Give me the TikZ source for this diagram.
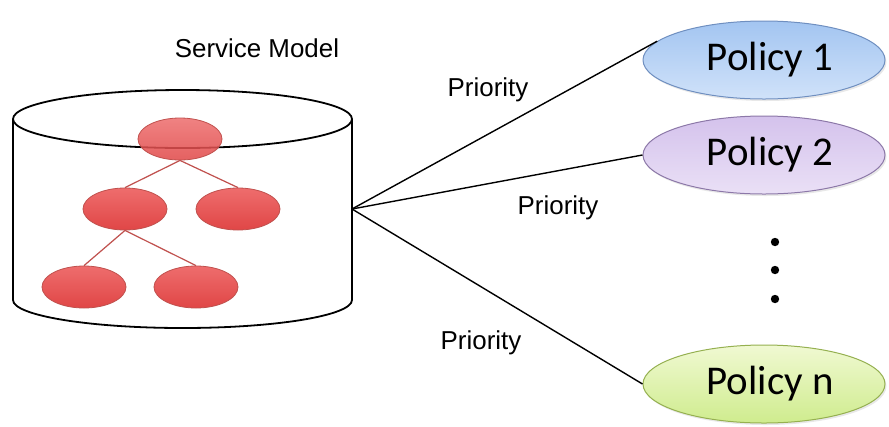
\documentclass[tikz,border=0pt]{standalone}
\usepackage{fontspec}
\setmainfont{Liberation Sans}
\newfontfamily\policyfont{Carlito}
\usetikzlibrary{shapes.geometric,shadows}

\definecolor{treered}{HTML}{E04646}
\definecolor{treeredlight}{HTML}{EE6D6D}
\definecolor{treeedge}{HTML}{C0504D}
\definecolor{pblue}{HTML}{A3C5F1}
\definecolor{pbluelight}{HTML}{D0E2F9}
\definecolor{pblueedge}{HTML}{6F8FC0}
\definecolor{ppurple}{HTML}{D4C2EC}
\definecolor{ppurplelight}{HTML}{EAE0F6}
\definecolor{ppurpleedge}{HTML}{8C78A8}
\definecolor{pgreen}{HTML}{CFEC8E}
\definecolor{pgreenlight}{HTML}{F0F9D2}
\definecolor{pgreenedge}{HTML}{95B050}

\tikzset{
  treenode/.style={ellipse, draw=treeedge, line width=0.8bp,
    top color=treeredlight, bottom color=treered,
    minimum width=84bp, minimum height=42bp, inner sep=0pt},
  treeline/.style={draw=treeedge, line width=1.2bp},
  policy/.style={ellipse, line width=1bp, minimum width=242bp,
    minimum height=78bp, inner sep=0pt,
    font=\policyfont\fontsize{41}{45}\selectfont,
    drop shadow={opacity=0.18, shadow xshift=1.5bp, shadow yshift=-2bp}},
  label/.style={font=\fontsize{26}{30}\selectfont, inner sep=0pt},
  link/.style={draw=black, line width=1.4bp},
  cyl/.style={draw=black, line width=1.8bp},
}

\begin{document}
\begin{tikzpicture}[x=1bp, y=-1bp]
  \useasboundingbox (0,0) rectangle (889,426);

  % storage cylinder
  \fill[white] (13,119) -- (13,300) arc[start angle=180, end angle=0,
    x radius=169.5, y radius=28] -- (352,119) -- cycle;
  \draw[cyl] (13,119) -- (13,300) arc[start angle=180, end angle=0,
    x radius=169.5, y radius=28] -- (352,119);
  \draw[cyl] (182.5,119) ellipse[x radius=169.5, y radius=29];

  % service model tree (root is slightly see-through over the rim)
  \node[treenode, fill opacity=0.85] (root) at (180,139) {};
  \node[treenode] (ml) at (125,209) {};
  \node[treenode] (mr) at (238,209) {};
  \node[treenode] (bl) at (84,287) {};
  \node[treenode] (br) at (196,287) {};
  \draw[treeline] (root.south) -- (ml.north);
  \draw[treeline] (root.south) -- (mr.north);
  \draw[treeline] (ml.south) -- (bl.north);
  \draw[treeline] (ml.south) -- (br.north);

  \node[label] (title) at (257,48) {Service Model};

  % policies
  \node[policy, draw=pblueedge, top color=pblue, bottom color=pbluelight]
    (p1) at (764,60) {\hspace*{12bp}Policy 1};
  \node[policy, draw=ppurpleedge, top color=ppurple, bottom color=ppurplelight]
    (p2) at (764,155) {\hspace*{12bp}Policy 2};
  \node[policy, draw=pgreenedge, top color=pgreenlight, bottom color=pgreen]
    (pn) at (764,384) {\hspace*{12bp}Policy n};

  % ellipsis between policies
  \foreach \y/\n in {242/d1, 270/d2, 299/d3}
    \fill (775,\y) circle[radius=4.2bp] coordinate (\n);

  % priority links
  \coordinate (hub) at (352,209);
  \draw[link] (hub) -- (p1.170);
  \draw[link] (hub) -- (p2.west);
  \draw[link] (hub) -- (pn.west);

  \node[label] (pr1) at (488,90) {Priority};
  \node[label] (pr2) at (558,208) {Priority};
  \node[label] (prn) at (481,343) {Priority};
\end{tikzpicture}
\end{document}
